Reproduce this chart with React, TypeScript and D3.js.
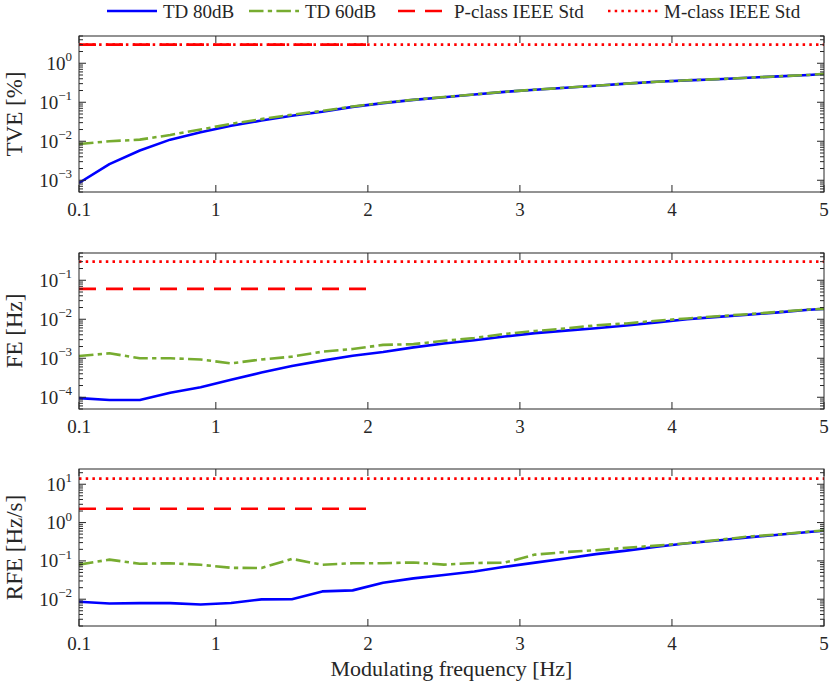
import React from "react"
import * as d3 from "d3"

// modulating frequency [Hz]
const freq = [0.1, 0.3, 0.5, 0.7, 0.9, 1.1, 1.3, 1.5, 1.7, 1.9, 2.1, 2.3, 2.5, 2.7, 2.9, 3.1, 3.3, 3.5, 3.7, 3.9, 4.1, 4.3, 4.5, 4.7, 4.9, 5.0]

// TVE [%]
const tveTd80 = [8.5e-4, 2.6e-3, 5.8e-3, 1.1e-2, 1.7e-2, 2.5e-2, 3.4e-2, 4.5e-2, 5.7e-2, 7.6e-2, 0.095, 0.115, 0.135, 0.158, 0.185, 0.21, 0.235, 0.265, 0.3, 0.335, 0.365, 0.39, 0.425, 0.46, 0.5, 0.53]
const tveTd60 = [8.5e-3, 1.0e-2, 1.1e-2, 1.45e-2, 2.0e-2, 2.8e-2, 3.7e-2, 4.8e-2, 6.0e-2, 7.8e-2, 0.097, 0.116, 0.136, 0.159, 0.186, 0.211, 0.236, 0.266, 0.301, 0.336, 0.366, 0.391, 0.426, 0.462, 0.502, 0.535]

// FE [Hz]
const feTd80 = [9.5e-5, 8.5e-5, 8.5e-5, 1.3e-4, 1.8e-4, 2.8e-4, 4.3e-4, 6.3e-4, 8.7e-4, 1.16e-3, 1.45e-3, 1.9e-3, 2.4e-3, 2.9e-3, 3.6e-3, 4.4e-3, 5.1e-3, 5.9e-3, 6.9e-3, 8.3e-3, 1.0e-2, 1.15e-2, 1.3e-2, 1.5e-2, 1.75e-2, 1.85e-2]
const feTd60 = [1.14e-3, 1.34e-3, 1.0e-3, 1.0e-3, 9.3e-4, 7.4e-4, 9.3e-4, 1.1e-3, 1.47e-3, 1.73e-3, 2.2e-3, 2.3e-3, 2.8e-3, 3.3e-3, 4.2e-3, 5.0e-3, 5.8e-3, 7.0e-3, 7.8e-3, 9.2e-3, 1.05e-2, 1.2e-2, 1.35e-2, 1.55e-2, 1.78e-2, 1.85e-2]

// RFE [Hz/s]
const rfeTd80 = [8.6e-3, 7.7e-3, 7.9e-3, 7.9e-3, 7.3e-3, 8.0e-3, 9.9e-3, 1.0e-2, 1.6e-2, 1.7e-2, 2.7e-2, 3.5e-2, 4.3e-2, 5.3e-2, 7.0e-2, 9.0e-2, 0.115, 0.15, 0.185, 0.235, 0.29, 0.34, 0.41, 0.48, 0.57, 0.61]
const rfeTd60 = [8.0e-2, 0.108, 0.084, 0.087, 0.079, 0.066, 0.065, 0.113, 0.079, 0.087, 0.087, 0.091, 0.08, 0.088, 0.09, 0.146, 0.17, 0.19, 0.22, 0.25, 0.29, 0.35, 0.43, 0.49, 0.58, 0.62]

// IEEE limits: [P-class, M-class], P-class drawn up to 2 Hz
const tveLimits = [3, 3]
const feLimits = [0.06, 0.3]
const rfeLimits = [2.3, 14]
const pClassRange = [0.1, 2]
const mClassRange = [0.1, 5]

const xTicks = [0.1, 1, 2, 3, 4, 5]
const xTickLabels = ["0.1", "1", "2", "3", "4", "5"]

const legendLabels = ["TD 80dB", "TD 60dB", "P-class IEEE Std", "M-class IEEE Std"]

const FONT = "'Liberation Serif', 'DejaVu Serif', serif"
const AX = "#262626"
const BLUE = "#0000ff"
const GREEN = "#77ac30"
const RED = "#ff0000"

const W = 830
const H = 686
const left = 79
const right = 824

const styles = [
  { color: BLUE, dash: "none" },
  { color: GREEN, dash: "14.5,4.3,4.3,4.3" },
  { color: RED, dash: "17,10" },
  { color: RED, dash: "2.5,4.2" },
]

const x = d3.scaleLinear().domain([0.1, 5]).range([left, right])

interface IPanel {
  top: number
  bottom: number
  domain: [number, number]
  td80: number[]
  td60: number[]
  limits: number[]
  label: string
  id: string
}

const Panel: React.FC<IPanel> = (props) => {
  const { top, bottom, domain, td80, td60, limits, label, id } = props
  const y = d3.scaleLog().domain(domain).range([bottom, top])

  const line = d3.line<[number, number]>()
    .x(d => x(d[0]))
    .y(d => y(d[1]))

  const s80 = freq.map((f, i) => [f, td80[i]] as [number, number])
  const s60 = freq.map((f, i) => [f, td60[i]] as [number, number])

  // log ticks, majors at the decades
  const ticks: { v: number, major: boolean }[] = []
  const e0 = Math.floor(Math.log10(domain[0]))
  const e1 = Math.floor(Math.log10(domain[1]))
  for (let e = e0; e <= e1; e++) {
    for (let k = 1; k <= 9; k++) {
      const v = k * Math.pow(10, e)
      if (v >= domain[0] && v <= domain[1]) ticks.push({ v, major: k === 1 })
    }
  }

  const cy = (top + bottom) / 2

  return (
    <g className="panel" id={`panel-${id}`}>
      <defs>
        <clipPath id={`clip-${id}`}>
          <rect x={left} y={top} width={right - left} height={bottom - top} />
        </clipPath>
      </defs>
      <rect x={left} y={top} width={right - left} height={bottom - top} fill="white" />

      <g clipPath={`url(#clip-${id})`} fill="none" strokeWidth={2.6}>
        <path d={line([[pClassRange[0], limits[0]], [pClassRange[1], limits[0]]]) || ""}
          stroke={RED} strokeDasharray={styles[2].dash} />
        <path d={line([[mClassRange[0], limits[1]], [mClassRange[1], limits[1]]]) || ""}
          stroke={RED} strokeDasharray={styles[3].dash} />
        <path d={line(s80) || ""} stroke={BLUE} strokeLinejoin="round" />
        <path d={line(s60) || ""} stroke={GREEN} strokeDasharray={styles[1].dash} strokeLinejoin="round" />
      </g>

      <g stroke={AX} strokeWidth={1}>
        {ticks.map((t, i) => {
          const len = t.major ? 7 : 4
          const yy = y(t.v)
          return (
            <g key={i}>
              <line x1={left} x2={left + len} y1={yy} y2={yy} />
              <line x1={right - len} x2={right} y1={yy} y2={yy} />
            </g>
          )
        })}
        {xTicks.map((t, i) => (
          <g key={i}>
            <line x1={x(t)} x2={x(t)} y1={bottom} y2={bottom - 7} />
            <line x1={x(t)} x2={x(t)} y1={top} y2={top + 7} />
          </g>
        ))}
        <rect x={left} y={top} width={right - left} height={bottom - top} fill="none" />
      </g>

      <g fontFamily={FONT} fill={AX}>
        {ticks.filter(t => t.major).map((t, i) => {
          const exp = Math.round(Math.log10(t.v))
          return (
            <text key={i} x={72} y={y(t.v) + 6.5} textAnchor="end" fontSize={19}>
              10<tspan fontSize={13} dy={-8.5}>{exp < 0 ? `\u2212${-exp}` : `${exp}`}</tspan>
            </text>
          )
        })}
        {xTicks.map((t, i) => (
          <text key={i} x={x(t)} y={bottom + 24} textAnchor="middle" fontSize={19}>{xTickLabels[i]}</text>
        ))}
        <text transform={`translate(22, ${cy}) rotate(-90)`} textAnchor="middle" fontSize={23}>{label}</text>
      </g>
    </g>
  )
}

const legendX = [107, 249, 398, 608]

const Legend: React.FC = () => (
  <g className="legend">
    {legendLabels.map((lab, i) => (
      <g key={i}>
        <line x1={legendX[i]} x2={legendX[i] + 50} y1={11} y2={11}
          stroke={styles[i].color} strokeWidth={2.6}
          strokeDasharray={styles[i].dash === "none" ? undefined : styles[i].dash} />
        <text x={legendX[i] + 56} y={17.5} fontFamily={FONT} fontSize={19} fill={AX}>{lab}</text>
      </g>
    ))}
  </g>
)

const App: React.FC = () => {
  return (
    <svg width={W} height={H} style={{ position: "absolute", left: 0, top: 0, background: "white" }}>
      <rect x={0} y={0} width={W} height={H} fill="white" />
      <Panel id="tve" top={36} bottom={192} domain={[5e-4, 5]} td80={tveTd80} td60={tveTd60} limits={tveLimits} label="TVE [%]" />
      <Panel id="fe" top={253} bottom={409} domain={[5e-5, 0.5]} td80={feTd80} td60={feTd60} limits={feLimits} label="FE [Hz]" />
      <Panel id="rfe" top={469} bottom={626} domain={[2e-3, 25]} td80={rfeTd80} td60={rfeTd60} limits={rfeLimits} label="RFE [Hz/s]" />
      <text x={(left + right) / 2} y={676} textAnchor="middle" fontFamily={FONT} fontSize={22} fill={AX}>
        Modulating frequency [Hz]
      </text>
      <Legend />
    </svg>
  )
}

export default App
